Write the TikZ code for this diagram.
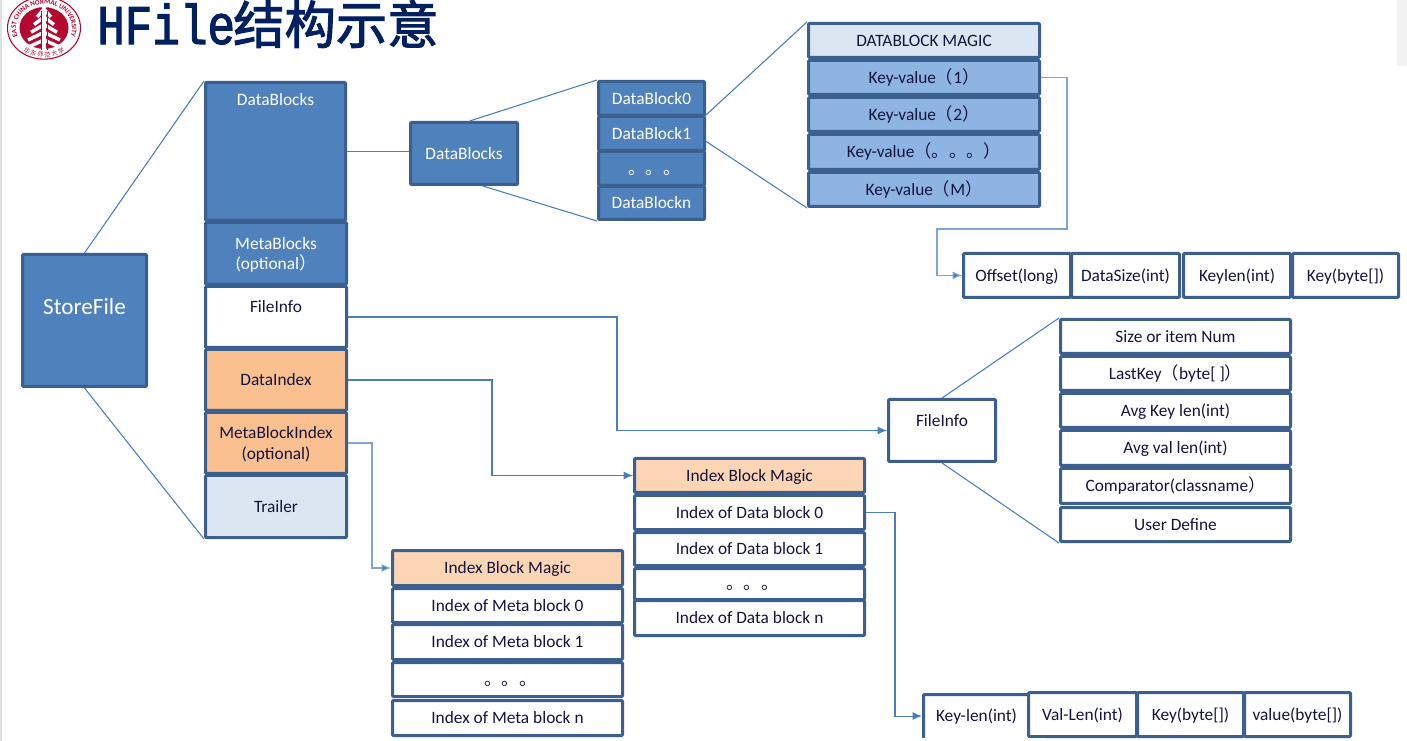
\documentclass[tikz,border=0pt]{standalone}
\usepackage{fontspec}
\setmainfont{Carlito}
\newfontfamily\cjk{Noto Sans CJK SC}
\newfontfamily\cjktitle[FakeBold=2]{Noto Sans CJK SC}
\newfontfamily\titlelatin[FakeStretch=0.82,FakeBold=2]{Liberation Mono}
\usetikzlibrary{arrows.meta,decorations.text}
\definecolor{edgeblue}{HTML}{3B5F8F}
\definecolor{linkblue}{HTML}{4A7EBB}
\definecolor{linkpale}{HTML}{7FA5D5}
\definecolor{fillblue}{HTML}{4F81BD}
\definecolor{midblue}{HTML}{8EB4E3}
\definecolor{paleblue}{HTML}{DCE6F2}
\definecolor{orangebox}{HTML}{FAC090}
\definecolor{paleorange}{HTML}{FCD5B5}
\definecolor{titleblue}{HTML}{002060}
\definecolor{logored}{HTML}{B5072F}
\definecolor{inktext}{HTML}{14143C}
\tikzset{
	box/.style={draw=edgeblue,line width=2.25pt,rounded corners=0.8pt,inner sep=0pt,align=center,
		font=\fontsize{13}{15.5}\selectfont,text=inktext,text height=10pt,text depth=1.4pt},
	solid blue/.style={box,fill=fillblue,text=white},
	two lines/.style={text height=24.5pt,text depth=0pt},
	link/.style={draw=linkblue,line width=0.8pt},
	linkto/.style={link,-{Latex[length=7pt,width=6pt,fill=linkblue]}}
}
% box from its corners: name, x0, y0, x1, y1
\newcommand{\boxat}[6]{%
	\node[box,#6,minimum width={(#4-#2)*0.75pt-0.75pt},minimum height={(#5-#3)*0.75pt-0.75pt}] (#1) at ({(#2+#4)/2},{(#3+#5)/2})}
\newcommand{\dotrow}{\hspace*{4.5pt}{\cjk 。。。}}
\begin{document}
\begin{tikzpicture}[x=0.75pt,y=-0.75pt]
\clip (0,0) rectangle (1407,741);
\fill[white] (0,0) rectangle (1407,741);
\fill[black!12] (0,0) rectangle (1.5,741);
\fill[black!5] (1397,0) rectangle (1407,66);
% logo
\begin{scope}[shift={(44,28)},x=0.75pt,y=0.64pt]
\fill[white] (0,0) circle[radius=37];
\draw[logored,line width=0.8pt] (0,0) circle[radius=36.5];
\fill[logored] (0,0) circle[radius=24.5];
\draw[white,line width=2.6pt] (0,28) -- (0,-27);
\foreach \ytop/\halfw in {22/7,13/10,4/13,-5/16,-14/17}
	\draw[white,line width=2.6pt] (-\halfw,\ytop-9) -- (0,\ytop) -- (\halfw,\ytop-9);
\draw[logored,line width=0.45pt] (-3,20) -- (-3,-26) (3,20) -- (3,-26);
\path[decorate,decoration={text along path,text align=center,
	text={|\fontsize{5.2}{6}\selectfont\bfseries\color{logored}|EAST CHINA NORMAL UNIVERSITY}}]
	(212:28) arc[start angle=212,end angle=-32,radius=28];
\path[decorate,decoration={text along path,text align=center,
	text={|\cjk\fontsize{4.6}{5}\selectfont\color{logored}|华 东 师 范 大 学}}]
	(222:34) arc[start angle=222,end angle=318,radius=34];
\end{scope}
% title
\node[anchor=west,inner sep=0pt,text=titleblue,font=\titlelatin\fontsize{42}{44}\selectfont] (title) at (97,24) {HFile};
\node[anchor=west,inner sep=0pt,text=titleblue,font=\cjktitle\fontsize{38.5}{40}\selectfont] (titlecn) at (233,24) {结构示意};
% store file and its stack
\boxat{store}{22}{254}{147}{387}{solid blue,font=\fontsize{17.4}{20}\selectfont,text height=12pt,text depth=20.5pt} {StoreFile};
\boxat{dblocks}{205}{82}{346}{221}{solid blue,text height=8pt,text depth=76.5pt} {DataBlocks};
\boxat{mblocks}{205}{222}{347}{285}{solid blue,two lines} {MetaBlocks\\(optional{\cjk ）}};
\boxat{finfo}{205}{286}{347}{348}{fill=white,text height=8pt,text depth=14pt} {FileInfo};
\boxat{dindex}{205}{349}{347}{411}{fill=orangebox} {DataIndex};
\boxat{mindex}{205}{412}{347}{474}{fill=orangebox,two lines} {MetaBlockIndex\\(optional)};
\boxat{trailer}{205}{475}{347}{538}{fill=paleblue} {Trailer};
% data blocks
\boxat{dblocksb}{410}{122}{518}{185}{solid blue} {DataBlocks};
\boxat{dbzero}{598}{81}{705}{116}{solid blue} {DataBlock0};
\boxat{dbone}{598}{116}{705}{151}{solid blue} {DataBlock1};
\boxat{dbdots}{598}{151}{705}{186}{solid blue} {\dotrow};
\boxat{dbn}{598}{186}{705}{220}{solid blue} {DataBlockn};
% key values
\boxat{magic}{808}{23}{1040}{58}{fill=paleblue} {DATABLOCK MAGIC};
\boxat{kvone}{808}{60}{1040}{95}{fill=midblue} {Key-value{\cjk （}1{\cjk ）}};
\boxat{kvtwo}{808}{97}{1040}{132}{fill=midblue} {Key-value{\cjk （}2{\cjk ）}};
\boxat{kvdots}{808}{134}{1040}{170}{fill=midblue} {Key-value{\cjk （。。。）}};
\boxat{kvm}{808}{172}{1040}{207}{fill=midblue} {Key-value{\cjk （}M{\cjk ）}};
% key value fields
\boxat{offset}{963}{253}{1071}{298}{fill=white} {Offset(long)};
\boxat{dsize}{1071}{253}{1180}{298}{fill=white} {DataSize(int)};
\boxat{klen}{1183}{253}{1291}{298}{fill=white} {Keylen(int)};
\boxat{kbyte}{1292}{253}{1399}{298}{fill=white} {Key(byte[])};
% file info
\boxat{finfob}{888}{399}{996}{462}{fill=white,text height=8pt,text depth=13.5pt} {FileInfo};
\boxat{fisize}{1060}{319}{1291}{354}{fill=white} {Size or item Num};
\boxat{filast}{1060}{356}{1291}{391}{fill=white} {LastKey{\cjk （}byte[ ]{\cjk ）}};
\boxat{fikey}{1060}{393}{1291}{428}{fill=white} {Avg Key len(int)};
\boxat{fival}{1060}{430}{1291}{466}{fill=white} {Avg val len(int)};
\boxat{ficomp}{1060}{468}{1291}{504}{fill=white} {Comparator(classname{\cjk ）}};
\boxat{fiuser}{1060}{507}{1291}{542}{fill=white} {User Define};
% data index
\boxat{imdata}{634}{458}{865}{493}{fill=paleorange} {Index Block Magic};
\boxat{idzero}{634}{495}{865}{530}{fill=white} {Index of Data block 0};
\boxat{idone}{634}{532}{865}{566}{fill=white} {Index of Data block 1};
\boxat{iddots}{634}{568}{865}{600}{fill=white} {\dotrow};
\boxat{idn}{634}{600}{865}{636}{fill=white} {Index of Data block n};
% meta index
\boxat{immeta}{392}{550}{623}{586}{fill=paleorange} {Index Block Magic};
\boxat{imzero}{392}{588}{623}{623}{fill=white} {Index of Meta block 0};
\boxat{imone}{392}{624}{623}{660}{fill=white} {Index of Meta block 1};
\boxat{imdots}{392}{662}{623}{697}{fill=white} {\dotrow};
\boxat{imn}{392}{700}{623}{736}{fill=white} {Index of Meta block n};
% index entry fields
\boxat{eklen}{923}{694}{1030}{745}{fill=white,text depth=6.6pt} {Key-len(int)};
\boxat{evlen}{1028}{692}{1137}{737}{fill=white} {Val-Len(int)};
\boxat{ekey}{1137}{692}{1244}{737}{fill=white} {Key(byte[])};
\boxat{evalue}{1244}{692}{1351}{737}{fill=white} {value(byte[])};
% zoom lines
\draw[link] (store.north) -- (dblocks.north west);
\draw[link] (store.south) -- (trailer.south west);
\draw[link] (dblocks.east) -- (dblocks.east -| dblocksb.west);
\draw[link] (dblocksb.80) -- (dbzero.north west);
\draw[link] (dblocksb.-60) -- (dbn.south west);
\draw[link] (dbone.north east) -- (magic.north west);
\draw[link] ([yshift=8pt]dbone.south east) -- (kvm.south west);
\draw[link] (finfob.north) -- (fisize.north west);
\draw[link] (finfob.south) -- (fiuser.south west);
% elbow links
\draw[linkto,draw=linkpale] (kvone.east) -- ++(26,0) |- (937,229) |- (offset.west);
\draw[linkto] (finfo.east) -- ++(269,0) |- (finfob.west);
\draw[linkto] (dindex.east) -- ++(144,0) |- (imdata.west);
\draw[linkto,draw=linkpale] (mindex.east) -- ++(24,0) |- (immeta.west);
\draw[linkto] (idzero.east) -- ++(29,0) |- ([yshift=2.6pt]eklen.west);
\fill[white] (920,738) rectangle (1046,741);
\end{tikzpicture}
\end{document}
